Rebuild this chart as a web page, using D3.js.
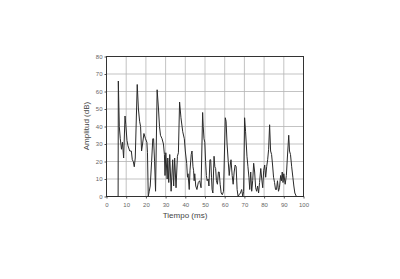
<!DOCTYPE html>
<html>
  <head>
    <meta charset="utf-8">
    <title>Amplitud vs Tiempo</title>
    <script src="https://d3js.org/d3.v7.min.js"></script>
    <style>
      body { margin: 0; background: #fff; }
    </style>
  </head>
  <body>
    <svg width="400" height="279"></svg>
    <script>
      // time in ms, amplitude in dB
      var time = [
        0, 5.9, 6.0, 6.5, 7.0, 7.6, 8.1, 8.7, 9.4, 9.8, 10.4, 10.9, 11.8, 12.6, 13.1, 13.6, 14.1, 14.6,
        15.6, 16.2, 16.8, 17.3, 17.8, 18.3, 19.0, 19.8, 20.5, 20.8, 21.2, 21.7, 22.2, 22.9, 23.5, 23.9, 24.4, 24.9,
        25.7, 26.4, 26.9, 27.4, 28.2, 28.9, 29.4, 29.7, 30.1, 30.8, 31.1, 31.6, 32.1, 32.8, 33.6, 34.1, 34.6, 35.3, 36.0, 36.5,
        37.1, 37.8, 38.7, 39.5, 40.0, 40.7, 41.1, 41.4, 42.0, 42.4, 43.0, 43.4, 43.9, 44.2, 44.5, 44.8, 45.3, 45.9, 46.6, 47.3, 48.0,
        48.8, 49.1, 49.5, 49.9, 50.3, 50.7, 51.1, 51.6, 52.0, 52.5, 52.9, 53.3, 53.6, 54.0, 54.6, 55.0, 55.4, 55.8, 56.3, 56.8, 57.2, 57.7, 58.2, 58.8, 59.4,
        60.3, 60.7, 61.2, 61.8, 62.3, 62.8, 63.2, 63.8, 64.3, 64.8, 65.3, 65.8, 66.3, 66.8, 67.3, 68.0, 68.6, 69.2, 69.6,
        70.1, 70.6, 71.3, 71.8, 72.3, 72.7, 73.2, 73.7, 74.2, 74.7, 75.2, 75.7, 76.2, 76.7, 77.2, 77.7, 78.3, 78.8, 79.3, 79.8, 80.3, 80.8, 81.3, 81.8, 82.3,
        82.8, 83.3, 83.8, 84.3, 84.8, 85.3, 85.8, 86.3, 86.8, 87.3, 87.8, 88.4, 88.8, 89.2, 89.6, 90.0, 90.7, 91.3, 91.8,
        92.5, 92.9, 93.4, 94.0, 94.6, 95.1, 95.6, 96.4, 100
      ];
      var amplitude = [
        0, 0, 66, 40, 33, 27, 31, 22, 46, 41, 32, 29, 26, 26, 21, 20, 17, 22,
        64, 50, 43, 40, 26, 30, 36, 33, 31, 25, 0, 3, 6, 20, 33, 33, 20, 3,
        61, 50, 40, 35, 33, 30, 24, 12, 25, 10, 22, 8, 24, 3, 21, 6, 22, 5, 23, 25,
        54, 45, 37, 33, 26, 19, 11, 13, 4, 15, 24, 26, 17, 15, 9, 13, 6, 4, 8, 9, 5,
        48, 40, 33, 31, 20, 12, 9, 10, 6, 21, 21, 11, 4, 2, 23, 17, 16, 9, 7, 14, 14, 7, 2, 1, 3,
        45, 43, 30, 20, 12, 18, 21, 12, 7, 14, 18, 17, 4, 0, 1, 2, 4, 0, 3,
        45, 37, 23, 17, 11, 4, 14, 3, 9, 19, 14, 5, 3, 6, 2, 8, 16, 10, 5, 15, 18, 11, 17, 21, 27,
        41, 26, 24, 18, 11, 8, 4, 4, 9, 3, 5, 12, 9, 14, 8, 13, 7, 12, 22,
        35, 26, 24, 17, 11, 6, 2, 0, 0
      ];
      var xTicks = [0, 10, 20, 30, 40, 50, 60, 70, 80, 90, 100];
      var yTicks = [0, 10, 20, 30, 40, 50, 60, 70, 80];

      var svg = d3.select("svg");
      var x = d3.scaleLinear().domain([0, 100]).range([106.5, 303.5]);
      var y = d3.scaleLinear().domain([0, 80]).range([196.5, 56.5]);

      // grid
      svg.append("g").selectAll("line.v")
        .data(xTicks).enter().append("line")
        .attr("x1", function (d) { return x(d); }).attr("x2", function (d) { return x(d); })
        .attr("y1", y(0)).attr("y2", y(80))
        .attr("stroke", "#b4b4b4").attr("stroke-width", 0.8);
      svg.append("g").selectAll("line.h")
        .data(yTicks).enter().append("line")
        .attr("y1", function (d) { return y(d); }).attr("y2", function (d) { return y(d); })
        .attr("x1", x(0)).attr("x2", x(100))
        .attr("stroke", "#b4b4b4").attr("stroke-width", 0.8);

      // axes
      var xAxis = svg.append("g")
        .attr("transform", "translate(0," + y(0) + ")")
        .call(d3.axisBottom(x).tickValues(xTicks).tickSize(2).tickPadding(4));
      var yAxis = svg.append("g")
        .attr("transform", "translate(" + x(0) + ",0)")
        .call(d3.axisLeft(y).tickValues(yTicks).tickSize(2).tickPadding(2));
      [xAxis, yAxis].forEach(function (g) {
        g.select(".domain").remove();
        g.selectAll("line").attr("stroke", "#555");
        g.selectAll("text").attr("font-family", "Liberation Sans, Arial, sans-serif")
          .attr("font-size", "6px").attr("fill", "#666");
      });

      // frame
      svg.append("rect")
        .attr("x", x(0)).attr("y", y(80))
        .attr("width", x(100) - x(0)).attr("height", y(0) - y(80))
        .attr("fill", "none").attr("stroke", "#333").attr("stroke-width", 1);

      // waveform
      var line = d3.line()
        .x(function (d, i) { return x(time[i]); })
        .y(function (d) { return y(d); });
      svg.append("path")
        .datum(amplitude)
        .attr("d", line)
        .attr("fill", "none")
        .attr("stroke", "#2a2a2a")
        .attr("stroke-width", 1)
        .attr("stroke-linejoin", "round");

      // titles
      svg.append("text")
        .attr("x", (x(0) + x(100)) / 2 - 20).attr("y", 218)
        .attr("text-anchor", "middle")
        .attr("font-family", "Liberation Sans, Arial, sans-serif")
        .attr("font-size", "8px").attr("fill", "#444")
        .text("Tiempo (ms)");
      svg.append("text")
        .attr("transform", "translate(89,126) rotate(-90)")
        .attr("text-anchor", "middle")
        .attr("font-family", "Liberation Sans, Arial, sans-serif")
        .attr("font-size", "8px").attr("fill", "#444")
        .text("Amplitud (dB)");
    </script>
  </body>
</html>
